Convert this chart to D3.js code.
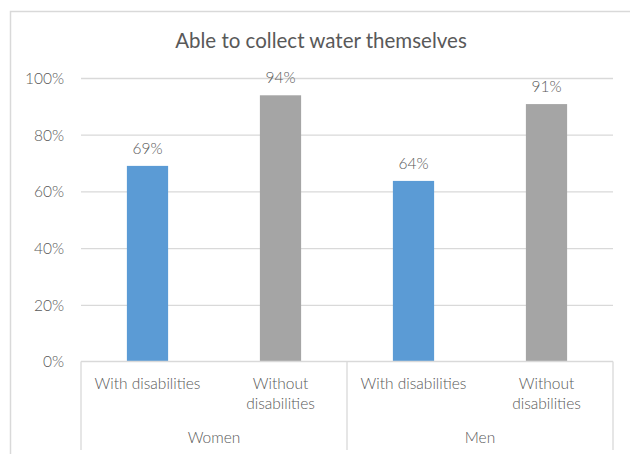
<!DOCTYPE html>
<html><head><meta charset="utf-8">
<script src="https://cdn.jsdelivr.net/npm/d3@7"></script>
<style>
body{margin:0;background:#fff;}
svg text{font-family:Lato,"Open Sans",sans-serif;fill:#595959;}
.small{font-weight:300;}
</style></head>
<body><svg id="c" width="630" height="454"></svg>
<script>
const title = "Able to collect water themselves";
const groups = ["Women", "Men"];
const categories = [["With disabilities"], ["Without", "disabilities"]];
const valuesWith = [0.69, 0.637];
const valuesWithout = [0.939, 0.908];
const labelsWith = ["69%", "64%"];
const labelsWithout = ["94%", "91%"];
const yTicks = [0, 0.2, 0.4, 0.6, 0.8, 1.0];
const colors = {with: "#5B9BD5", without: "#A5A5A5"};

const rows = [];
groups.forEach((g, gi) => {
  rows.push({key: g + "-with", group: g, cat: categories[0], v: valuesWith[gi], lab: labelsWith[gi], color: colors.with});
  rows.push({key: g + "-without", group: g, cat: categories[1], v: valuesWithout[gi], lab: labelsWithout[gi], color: colors.without});
});

const svg = d3.select("#c");
const L = 81, R = 613, T = 78, B = 361.5;

svg.append("rect").attr("x", 10.5).attr("y", 11.5).attr("width", 700).attr("height", 600)
  .attr("fill", "#fff").attr("stroke", "#d9d9d9").attr("stroke-width", 1.5);

svg.append("text").attr("x", 321).attr("y", 48).attr("text-anchor", "middle")
  .style("font-size", "20.5px").text(title);

const x = d3.scaleBand().domain(rows.map(d => d.key)).range([L, R]).paddingInner(0.69).paddingOuter(0.345);
const y = d3.scaleLinear().domain([0, 1]).range([B, T]);

const yAxis = d3.axisLeft(y).tickValues(yTicks).tickFormat(d3.format(".0%")).tickSize(-(R - L)).tickPadding(17);
const ya = svg.append("g").attr("transform", `translate(${L},0)`).call(yAxis);
ya.select(".domain").remove();
ya.selectAll(".tick line").attr("stroke", "#d9d9d9").attr("stroke-width", 1.3);
ya.selectAll(".tick text").attr("class", "small").style("font-size", "15.5px").attr("fill", "#595959").attr("dy", "0.35em");
ya.selectAll(".tick").filter(d => d === 0).select("line").remove();

svg.selectAll(".bar").data(rows).join("rect").attr("class", "bar")
  .attr("x", d => x(d.key)).attr("width", x.bandwidth())
  .attr("y", d => y(d.v)).attr("height", d => y(0) - y(d.v)).attr("fill", d => d.color);

svg.selectAll(".lab").data(rows).join("text").attr("class", "lab small")
  .attr("x", d => x(d.key) + x.bandwidth() / 2).attr("y", d => y(d.v) - 12)
  .attr("text-anchor", "middle").style("font-size", "15.5px").text(d => d.lab);

// category axis
const axG = svg.append("g");
axG.append("line").attr("x1", L).attr("x2", R).attr("y1", B).attr("y2", B).attr("stroke", "#d9d9d9").attr("stroke-width", 1.3);
const sepX = [L, (L + R) / 2, R];
axG.selectAll(".sep").data(sepX).join("line").attr("class", "sep")
  .attr("x1", d => d).attr("x2", d => d).attr("y1", B).attr("y2", 450)
  .attr("stroke", "#d9d9d9").attr("stroke-width", 1.3);

rows.forEach(d => {
  const t = axG.append("text").attr("class", "small").attr("x", x(d.key) + x.bandwidth() / 2).attr("y", 389)
    .attr("text-anchor", "middle").style("font-size", "15.5px");
  d.cat.forEach((line, i) => t.append("tspan").attr("x", x(d.key) + x.bandwidth() / 2).attr("dy", i ? 20 : 0).text(line));
});

const gScale = d3.scaleBand().domain(groups).range([L, R]);
axG.selectAll(".grp").data(groups).join("text").attr("class", "grp small")
  .attr("x", d => gScale(d) + gScale.bandwidth() / 2).attr("y", 443)
  .attr("text-anchor", "middle").style("font-size", "15.5px").text(d => d);
</script></body></html>
